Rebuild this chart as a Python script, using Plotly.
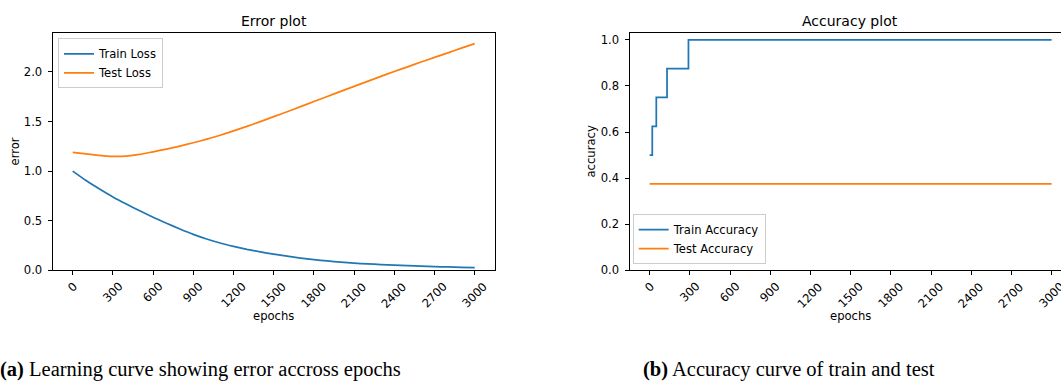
import plotly.graph_objects as go

# ---------------- data ----------------
epochs = list(range(0, 3001, 100))
train_loss = [1.000, 0.905, 0.820, 0.740, 0.668, 0.600, 0.535, 0.474, 0.416, 0.362,
              0.315, 0.275, 0.241, 0.211, 0.185, 0.162, 0.142, 0.123, 0.107, 0.094,
              0.082, 0.072, 0.064, 0.058, 0.052, 0.046, 0.041, 0.037, 0.033, 0.030,
              0.027]
test_loss = [1.190, 1.175, 1.158, 1.148, 1.151, 1.168, 1.195, 1.222, 1.252, 1.286,
             1.322, 1.362, 1.405, 1.451, 1.499, 1.549, 1.599, 1.650, 1.702, 1.753,
             1.804, 1.855, 1.905, 1.955, 2.005, 2.052, 2.100, 2.147, 2.193, 2.240,
             2.285]

acc_epochs = [0, 20, 50, 130, 290, 3000]
train_acc = [0.5, 0.625, 0.75, 0.875, 1.0, 1.0]
test_acc_epochs = [0, 3000]
test_acc = [0.375, 0.375]

x_ticks = list(range(0, 3001, 300))
loss_yticks = [0.0, 0.5, 1.0, 1.5, 2.0]
acc_yticks = [0.0, 0.2, 0.4, 0.6, 0.8, 1.0]

caption_a = "<b>(a)</b> Learning curve showing error accross epochs"
caption_b = "<b>(b)</b> Accuracy curve of train and test"

# ---------------- layout helpers ----------------
W, H = 1061, 383
BLUE = "#1f77b4"
ORANGE = "#ff7f0e"
FONT = "DejaVu Sans"
FS = 11.6

def px_x(p):
    return p / W

def px_y(p):
    return (H - p) / H

y_dom = [px_y(275.3), px_y(33.3)]
scale = (494.8 - 52.6) / 3300.0  # px per epoch

fig = go.Figure()
fig.add_trace(go.Scatter(x=epochs, y=train_loss, mode="lines", name="Train Loss",
                         line=dict(color=BLUE, width=1.75, shape="spline", smoothing=0.6),
                         xaxis="x", yaxis="y", legend="legend"))
fig.add_trace(go.Scatter(x=epochs, y=test_loss, mode="lines", name="Test Loss",
                         line=dict(color=ORANGE, width=1.75, shape="spline", smoothing=0.6),
                         xaxis="x", yaxis="y", legend="legend"))
fig.add_trace(go.Scatter(x=acc_epochs, y=train_acc, mode="lines", name="Train Accuracy",
                         line=dict(color=BLUE, width=1.75, shape="hv"), xaxis="x2", yaxis="y2",
                         legend="legend2"))
fig.add_trace(go.Scatter(x=test_acc_epochs, y=test_acc, mode="lines", name="Test Accuracy",
                         line=dict(color=ORANGE, width=1.75), xaxis="x2", yaxis="y2",
                         legend="legend2"))

axis_common = dict(showline=True, linecolor="#000000", linewidth=1, ticks="outside",
                   ticklen=4, tickwidth=1, tickcolor="#000000", showgrid=False,
                   zeroline=False, tickfont=dict(family=FONT, size=FS, color="#000000"))

fig.update_layout(
    width=W, height=H, autosize=False,
    margin=dict(l=0, r=0, t=0, b=0, pad=0),
    paper_bgcolor="white", plot_bgcolor="white",
    font=dict(family=FONT, size=FS, color="#000000"),
    xaxis=dict(domain=[px_x(52.6), px_x(494.8)], range=[-150, 3150], mirror=True,
               tickvals=x_ticks, showticklabels=False, anchor="y", **axis_common),
    yaxis=dict(domain=y_dom, range=[0, 2.396], mirror=True, tickvals=loss_yticks,
               tickformat=".1f", anchor="x", ticklabelstandoff=3, **axis_common),
    xaxis2=dict(domain=[px_x(629.5), 1.0], range=[-150, -150 + (W - 629.5) / scale],
                mirror=True, tickvals=x_ticks, showticklabels=False, anchor="y2",
                **axis_common),
    yaxis2=dict(domain=y_dom, range=[0, 1.031], mirror=False, tickvals=acc_yticks,
                tickformat=".1f", anchor="x2", ticklabelstandoff=3, **axis_common),
    legend=dict(x=px_x(58), y=px_y(39), xanchor="left", yanchor="top",
                bgcolor="rgba(255,255,255,0.8)", bordercolor="#cccccc", borderwidth=1,
                font=dict(family=FONT, size=FS, color="#000000")),
    legend2=dict(x=px_x(632.7), y=px_y(269), xanchor="left", yanchor="bottom",
                 bgcolor="rgba(255,255,255,0.8)", bordercolor="#cccccc", borderwidth=1,
                 font=dict(family=FONT, size=FS, color="#000000")),
    showlegend=True,
)

ann = []
# rotated tick labels (centered under ticks like matplotlib)
for xr in ("x", "x2"):
    for t in x_ticks:
        ann.append(dict(x=t, xref=xr, y=y_dom[0], yref="paper", text=str(t),
                        textangle=-45, xanchor="center", yanchor="top", yshift=-8,
                        showarrow=False, borderpad=0,
                        font=dict(family=FONT, size=FS, color="#000000")))
# titles
ann.append(dict(x=273.7 / W, y=px_y(21.5), xref="paper", yref="paper", text="Error plot",
                showarrow=False, xanchor="center", yanchor="middle",
                font=dict(family=FONT, size=14, color="#000000")))
ann.append(dict(x=850 / W, y=px_y(21.5), xref="paper", yref="paper", text="Accuracy plot",
                showarrow=False, xanchor="center", yanchor="middle",
                font=dict(family=FONT, size=14, color="#000000")))
# axis titles
ann.append(dict(x=273.7 / W, y=px_y(322), xref="paper", yref="paper", text="epochs",
                showarrow=False, xanchor="center", yanchor="middle",
                font=dict(family=FONT, size=FS, color="#000000")))
ann.append(dict(x=850 / W, y=px_y(322), xref="paper", yref="paper", text="epochs",
                showarrow=False, xanchor="center", yanchor="middle",
                font=dict(family=FONT, size=FS, color="#000000")))
ann.append(dict(x=px_x(15), y=px_y(154.3), xref="paper", yref="paper", text="error",
                textangle=-90, showarrow=False, xanchor="center", yanchor="middle",
                font=dict(family=FONT, size=FS, color="#000000")))
ann.append(dict(x=px_x(591), y=px_y(154.3), xref="paper", yref="paper", text="accuracy",
                textangle=-90, showarrow=False, xanchor="center", yanchor="middle",
                font=dict(family=FONT, size=FS, color="#000000")))
# captions
ann.append(dict(x=0, y=px_y(376.5), xref="paper", yref="paper", text=caption_a,
                showarrow=False, xanchor="left", yanchor="middle", xshift=-2,
                font=dict(family="Liberation Serif", size=20.5, color="#000000")))
ann.append(dict(x=px_x(641), y=px_y(376.5), xref="paper", yref="paper", text=caption_b,
                showarrow=False, xanchor="left", yanchor="middle",
                font=dict(family="Liberation Serif", size=20.5, color="#000000")))
fig.update_layout(annotations=ann)

fig.write_html("out.html", config={"displayModeBar": False})
